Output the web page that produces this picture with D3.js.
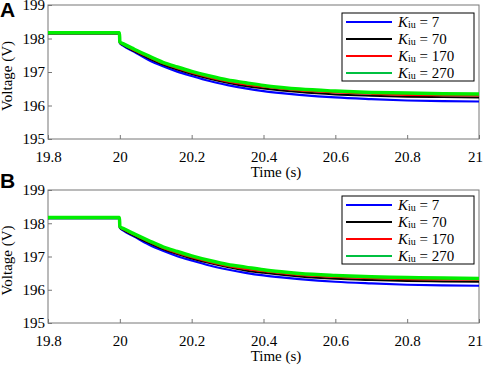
<!DOCTYPE html>
<html>
<head>
<meta charset="utf-8">
<script src="https://cdn.jsdelivr.net/npm/d3@7"></script>
<style>
  body { margin: 0; background: #fff; }
  svg { display: block; font-family: "Liberation Serif", "Times New Roman", serif; }
</style>
</head>
<body>
<svg id="chart" width="484" height="369"></svg>
<script>
// sample times (s)
const times = [19.8, 19.9, 19.999, 20.0, 20.01, 20.04, 20.08, 20.12, 20.16, 20.2, 20.25,
  20.3, 20.35, 20.4, 20.45, 20.5, 20.6, 20.7, 20.8, 20.9, 21.0];

// voltage (V), one list per Kiu
const kiu7 = [198.15, 198.15, 198.15, 197.86, 197.78, 197.60, 197.36, 197.17, 197.01, 196.88, 196.73,
  196.61, 196.51, 196.43, 196.37, 196.32, 196.24, 196.19, 196.15, 196.13, 196.12];
const kiu70 = [198.15, 198.15, 198.15, 197.87, 197.80, 197.62, 197.41, 197.22, 197.07, 196.94, 196.80,
  196.68, 196.58, 196.51, 196.45, 196.40, 196.33, 196.29, 196.26, 196.25, 196.24];
const kiu170 = [198.16, 198.16, 198.16, 197.88, 197.82, 197.65, 197.45, 197.26, 197.11, 196.98, 196.84,
  196.72, 196.63, 196.56, 196.50, 196.45, 196.39, 196.35, 196.32, 196.31, 196.30];
const kiu270 = [198.17, 198.17, 198.17, 197.90, 197.84, 197.68, 197.48, 197.29, 197.15, 197.02, 196.88,
  196.76, 196.68, 196.60, 196.54, 196.49, 196.43, 196.39, 196.37, 196.35, 196.34];

const seriesNames = ["7", "70", "170", "270"];
const seriesColors = ["#0000ff", "#000000", "#ff0000", "#00ee00"];
const legendColors = ["#0000ff", "#000000", "#ff0000", "#00c040"];
const seriesWidths = [2.2, 2, 2.2, 3.5];
const xTicks = [19.8, 20, 20.2, 20.4, 20.6, 20.8, 21];
const yTicks = [195, 196, 197, 198, 199];

const svg = d3.select("#chart");
const allSeries = [kiu7, kiu70, kiu170, kiu270];

function drawPanel(letter, top, bottom, letterY, legendTop) {
  const left = 48, right = 479;
  const x = d3.scaleLinear().domain([19.8, 21]).range([left, right]);
  const y = d3.scaleLinear().domain([195, 199]).range([bottom, top]);

  svg.append("text")
    .attr("x", 0).attr("y", letterY)
    .style("font-family", "'Liberation Sans', Arial, sans-serif")
    .style("font-weight", "bold").style("font-size", "21px")
    .text(letter);

  const g = svg.append("g");

  const xAxis = g.append("g")
    .attr("transform", "translate(0," + bottom + ")")
    .call(d3.axisBottom(x).tickValues(xTicks).tickFormat(d3.format("")).tickSize(-4).tickSizeOuter(0).tickPadding(12));
  const yAxis = g.append("g")
    .attr("transform", "translate(" + left + ",0)")
    .call(d3.axisLeft(y).tickValues(yTicks).tickFormat(d3.format("d")).tickSize(-4).tickSizeOuter(0).tickPadding(3));
  [xAxis, yAxis].forEach(a => {
    a.attr("font-family", "'Liberation Serif', serif").attr("font-size", 15);
    a.select(".domain").remove();
    a.selectAll("line").attr("stroke", "#777");
    a.selectAll("text").attr("fill", "#000");
  });
  // last x label sits at the right edge
  xAxis.selectAll(".tick").filter(d => d === 21).select("text").attr("dx", -4);

  g.append("rect")
    .attr("x", left).attr("y", top)
    .attr("width", right - left).attr("height", bottom - top)
    .attr("fill", "none").attr("stroke", "#777").attr("stroke-width", 1);

  const line = d3.line()
    .x((d, i) => x(times[i]))
    .y(d => y(d))
    .curve(d3.curveMonotoneX);

  allSeries.forEach((s, k) => {
    g.append("path")
      .datum(s)
      .attr("d", line)
      .attr("fill", "none")
      .attr("stroke", seriesColors[k])
      .attr("stroke-width", seriesWidths[k]);
  });

  g.append("text")
    .attr("x", 276).attr("y", bottom + 38)
    .attr("text-anchor", "middle")
    .style("font-size", "15px")
    .text("Time (s)");

  g.append("text")
    .attr("transform", "translate(12," + ((top + bottom) / 2 + 4) + ") rotate(-90)")
    .attr("text-anchor", "middle")
    .style("font-size", "15px")
    .text("Voltage (V)");

  // legend
  const lg = g.append("g");
  lg.append("rect")
    .attr("x", 342).attr("y", legendTop)
    .attr("width", 132).attr("height", 68)
    .attr("fill", "#fff").attr("stroke", "#000").attr("stroke-width", 1);
  seriesNames.forEach((n, k) => {
    const ly = legendTop + 9 + k * 17;
    lg.append("line")
      .attr("x1", 346).attr("x2", 392)
      .attr("y1", ly).attr("y2", ly)
      .attr("stroke", legendColors[k]).attr("stroke-width", 1.8);
    const t = lg.append("text")
      .attr("x", 398).attr("y", ly + 5)
      .style("font-size", "15px");
    t.append("tspan").style("font-style", "italic").text("K");
    t.append("tspan").style("font-size", "10px").attr("dy", 1).text("iu");
    t.append("tspan").attr("dy", -1).text(" = " + n);
  });
}

drawPanel("A", 5, 139, 17, 13);
drawPanel("B", 190, 323, 188, 196);
</script>
</body>
</html>
